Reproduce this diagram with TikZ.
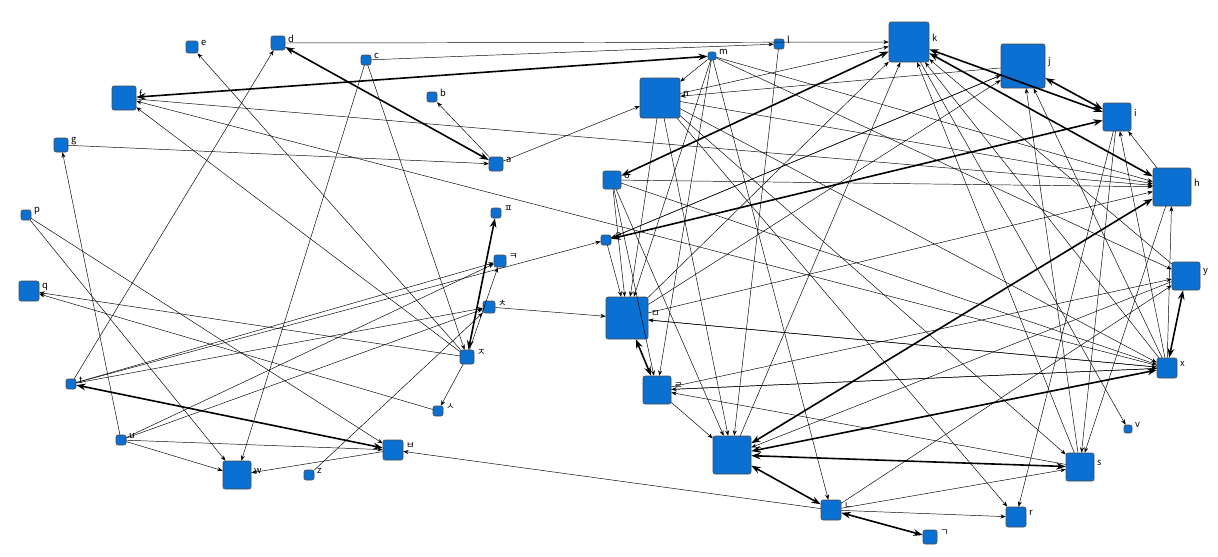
\documentclass[tikz,border=0pt]{standalone}
\usepackage{fontspec}
\setmainfont{DejaVu Sans}
\newfontfamily\cjk{Noto Sans CJK KR}
\usetikzlibrary{arrows.meta}
\definecolor{nb}{RGB}{10,112,210}
\begin{document}
\begin{tikzpicture}[x=0.75pt,y=-0.75pt,
 nd/.style={draw=black!70,fill=nb,rounded corners=1.5pt,inner sep=0pt,line width=0.4pt},
 lb/.style={font=\cjk\fontsize{7}{7}\selectfont,anchor=west,inner sep=1pt},
 e/.style={-{Stealth[length=4pt,width=3pt]},line width=0.35pt},
 tk/.style={{Stealth[length=7pt,width=5pt]}-{Stealth[length=7pt,width=5pt]},line width=1.2pt}]
\useasboundingbox (0,0) rectangle (1218,557);
\fill[white] (0,0) rectangle (1218,557);
\foreach \n/\x/\y/\s in {e/192/47/12,d/278/43/14,c/366/60/10,m/712/56/8,l/779/44/10,k/909/42/40,j/1023/66/44,f/124/98/24,b/432/97/10,n/660/98/40,i/1117/117/28,g/61/145/14,a/496/164/14,o/612/180/18,h/1172/187/38,p/26/215/10,P/496/213/10,O/606/240/10,K/500/261/12,y/1186/276/28,q/29/291/20,C/489/307/12,M/627/318/42,J/467/357/14,x/1167/368/20,R/657/390/28,t/71/384/10,S/438/411/10,v/1128/429/8,u/121/440/10,B/393/450/20,D/732/455/38,w/237/475/28,z/309/475/10,s/1080/467/28,N/831/510/20,r/1016/517/20,G/930/537/14}{
 \node[nd,minimum size=\s*0.75pt] (\n) at (\x,\y) {};
}
\foreach \a/\b in {d/k,c/l,J/e,t/d,c/w,c/J,J/f,x/f,f/h,g/a,a/b,a/n,p/w,p/B,J/q,S/q,t/K,t/O,t/C,u/w,u/B,u/C,u/K,u/g,B/w,z/C,J/S,J/K,C/M,N/B,m/n,m/M,m/R,m/N,m/h,m/y,l/D,n/k,M/k,D/k,x/k,s/k,y/k,O/j,M/j,s/j,x/j,x/i,h/i,i/r,x/h,M/h,n/h,o/h,N/y,R/y,R/x,M/x,n/x,o/x,h/s,i/s,n/s,N/s,N/r,n/r,k/v,o/R,x/R,s/R,R/D,o/D,y/D,n/D,o/M,O/M,x/M,n/M,j/O,j/n}{
 \draw[e] (\a) -- (\b);
}
\foreach \a/\b in {d/a,J/P,t/B,D/s,D/N,N/G,M/R,o/k,O/i,D/h,D/x,k/h,j/i,y/x,k/i,m/f}{
 \draw[tk] (\a) -- (\b);
}
\foreach \n/\t in {e/e,d/d,c/c,m/m,l/l,k/k,j/j,f/f,b/b,n/n,i/i,g/g,a/a,o/o,h/h,p/p,P/ㅍ,O/ㅇ,K/ㅋ,y/y,q/q,C/ㅊ,M/ㅁ,J/ㅈ,x/x,R/ㄹ,t/t,S/ㅅ,v/v,u/u,B/ㅂ,D/ㄷ,w/w,z/z,s/s,N/ㄴ,r/r,G/ㄱ}{
 \node[lb] at ([xshift=1pt,yshift=3pt]\n.east) {\t};
}
\end{tikzpicture}
\end{document}
